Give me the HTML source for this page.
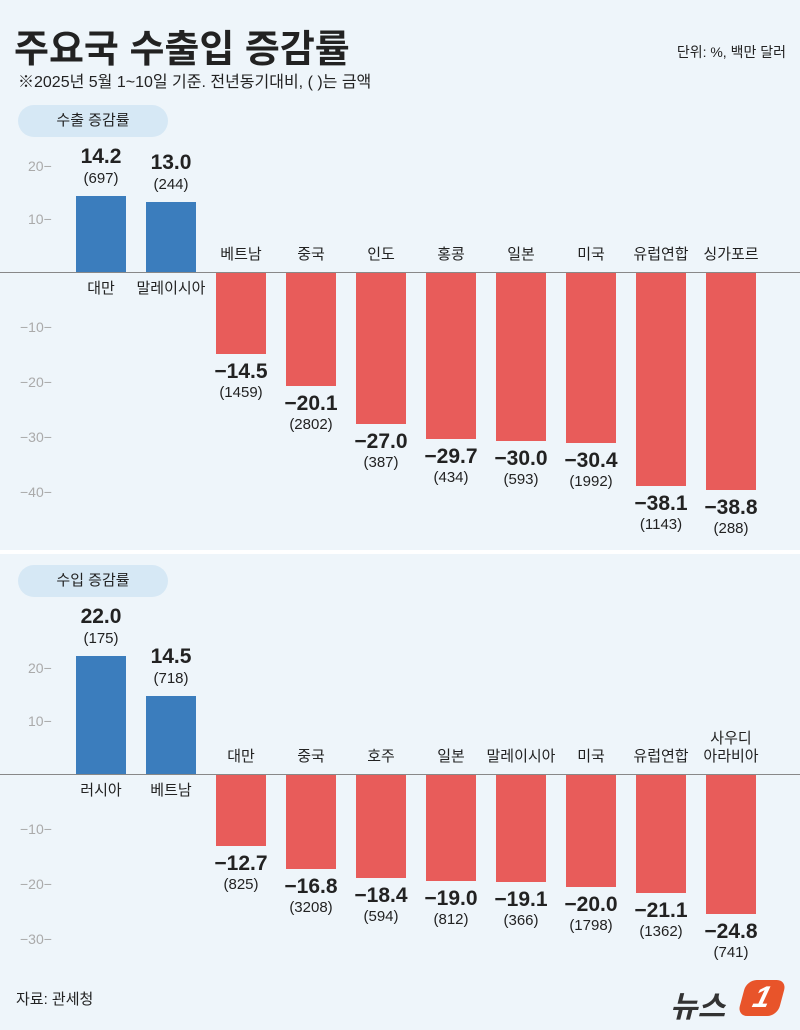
<!DOCTYPE html>
<html><head><meta charset="utf-8"><style>
body{margin:0;width:800px;height:1030px;background:#eef5fa;font-family:"Liberation Sans","Noto Sans CJK KR",sans-serif;position:relative;overflow:hidden;color:#222}
.a{position:absolute;white-space:nowrap}
.t{font-size:14px;color:#aaa;}
.bar{position:absolute;width:50px}
.b{background:#3b7dbd}.r{background:#e85c5a}
.v{position:absolute;width:100px;text-align:center;font-size:21px;font-weight:600;line-height:22px}
.p{position:absolute;width:100px;text-align:center;font-size:15px;line-height:18px}
.n{position:absolute;width:100px;text-align:center;font-size:15px;line-height:18px}
.pill{position:absolute;left:18px;width:150px;height:32px;border-radius:16px;background:#d6e8f5;font-size:15px;text-align:center;line-height:32px}
</style></head><body>
<div class="a" style="left:14px;top:18px;font-size:38px;font-weight:bold;color:#222">주요국 수출입 증감률</div>
<div class="a" style="left:18px;top:68px;font-size:16px">※2025년 5월 1~10일 기준. 전년동기대비, ( )는 금액</div>
<div class="a" style="right:14px;top:42px;font-size:14px">단위: %, 백만 달러</div>
<div class="pill" style="top:105px">수출 증감률</div>
<div class="a" style="left:0;top:550px;width:800px;height:4px;background:#fff"></div>
<div class="pill" style="top:565px">수입 증감률</div>
<div class="a" style="left:16px;top:988px;font-size:15px">자료: 관세청</div>
<div class="a" style="left:670px;top:982px;font-size:30px;font-weight:bold;font-style:italic;color:#333">뉴스</div>
<div class="a" style="left:742px;top:980px;width:40px;height:36px;background:#e8542a;border-radius:10px;transform:skewX(-15deg);color:#fff;font-size:30px;font-weight:bold;text-align:center;line-height:36px;font-style:italic">1</div>
<div id="c"></div>
<script>
let h='';
function chart(z,ticks,data){
 h+=`<div class="a" style="left:0;top:${z}px;width:800px;height:1px;background:#888"></div>`;
 ticks.forEach(t=>{let y=z-(t>0?t*5.3:t*5.5);h+=`<div class="a t" style="left:${t>0?28:20}px;top:${y-8}px">${t>0?t:'−'+(-t)}−</div>`});
 data.forEach((d,i)=>{let cx=101+70*i,[n,v,p]=d;
  if(v>0){let ht=v*5.35,top=z-ht;
   h+=`<div class="bar b" style="left:${cx-25}px;top:${top}px;height:${ht}px"></div>`;
   h+=`<div class="v" style="left:${cx-50}px;top:${top-50}px">${v.toFixed(1)}</div><div class="p" style="left:${cx-50}px;top:${top-26}px">(${p})</div>`;
   h+=`<div class="n" style="left:${cx-50}px;top:${z+8}px">${n}</div>`;
  }else{let ht=-v*5.6,bot=z+ht;
   h+=`<div class="bar r" style="left:${cx-25}px;top:${z+1}px;height:${ht}px"></div>`;
   h+=`<div class="v" style="left:${cx-50}px;top:${bot+8}px">−${(-v).toFixed(1)}</div><div class="p" style="left:${cx-50}px;top:${bot+31}px">(${p})</div>`;
   let nl=n.split('|');h+=`<div class="n" style="left:${cx-50}px;top:${z-26-18*(nl.length-1)}px">${nl.join('<br>')}</div>`;
  }});
}
chart(272,[20,10,-10,-20,-30,-40],[["대만",14.2,697],["말레이시아",13.0,244],["베트남",-14.5,1459],["중국",-20.1,2802],["인도",-27.0,387],["홍콩",-29.7,434],["일본",-30.0,593],["미국",-30.4,1992],["유럽연합",-38.1,1143],["싱가포르",-38.8,288]]);
chart(774,[20,10,-10,-20,-30],[["러시아",22.0,175],["베트남",14.5,718],["대만",-12.7,825],["중국",-16.8,3208],["호주",-18.4,594],["일본",-19.0,812],["말레이시아",-19.1,366],["미국",-20.0,1798],["유럽연합",-21.1,1362],["사우디|아라비아",-24.8,741]]);
document.getElementById('c').innerHTML=h;
</script>
</body></html>
